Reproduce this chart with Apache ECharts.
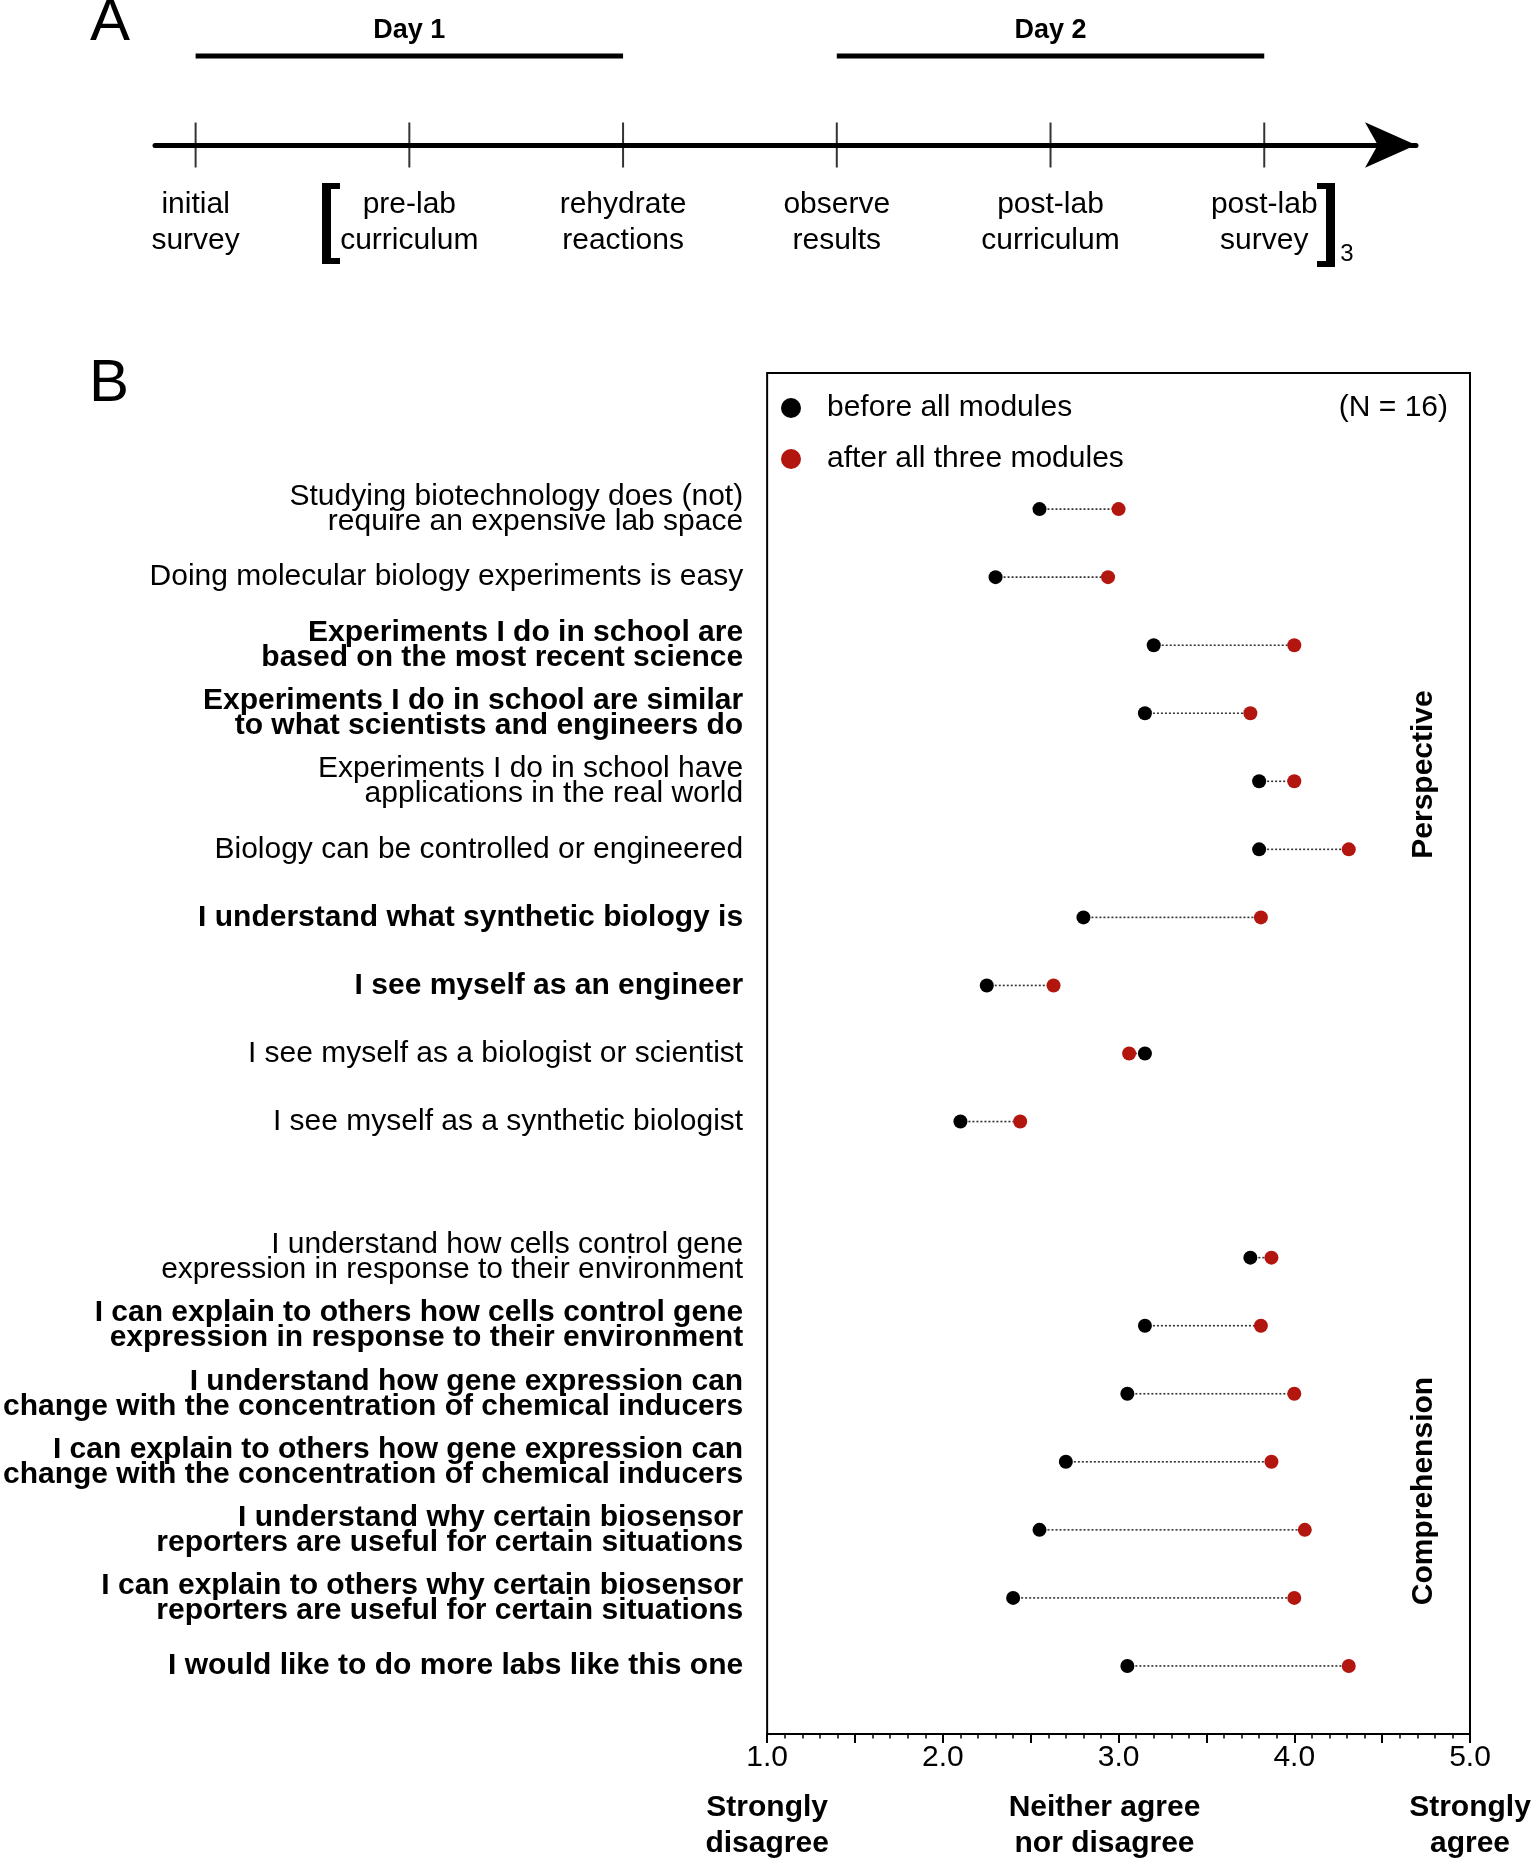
<!DOCTYPE html>
<html><head><meta charset="utf-8">
<script src="https://cdn.jsdelivr.net/npm/echarts@6/dist/echarts.min.js"></script>
<style>html,body{margin:0;padding:0;background:#fff}#c{width:1533px;height:1858px}</style>
</head><body><div id="c"></div>
<script>
// ---------- Panel A data ----------
const events = ['initial\nsurvey', 'pre-lab\ncurriculum', 'rehydrate\nreactions', 'observe\nresults', 'post-lab\ncurriculum', 'post-lab\nsurvey'];
const days = ['Day 1', 'Day 2'];
const dayStart = [1, 4];
const dayEnd = [3, 6];

// ---------- Panel B data ----------
const questions = [
  'Studying biotechnology does (not)\nrequire an expensive lab space',
  'Doing molecular biology experiments is easy',
  'Experiments I do in school are\nbased on the most recent science',
  'Experiments I do in school are similar\nto what scientists and engineers do',
  'Experiments I do in school have\napplications in the real world',
  'Biology can be controlled or engineered',
  'I understand what synthetic biology is',
  'I see myself as an engineer',
  'I see myself as a biologist or scientist',
  'I see myself as a synthetic biologist',
  null,
  'I understand how cells control gene\nexpression in response to their environment',
  'I can explain to others how cells control gene\nexpression in response to their environment',
  'I understand how gene expression can\nchange with the concentration of chemical inducers',
  'I can explain to others how gene expression can\nchange with the concentration of chemical inducers',
  'I understand why certain biosensor\nreporters are useful for certain situations',
  'I can explain to others why certain biosensor\nreporters are useful for certain situations',
  'I would like to do more labs like this one'
];
const boldFlags = [false, false, true, true, false, false, true, true, false, false, false,
                   false, true, true, true, true, true, true];
const before = [2.55, 2.30, 3.20, 3.15, 3.80, 3.80, 2.80, 2.25, 3.15, 2.10, null,
                3.75, 3.15, 3.05, 2.70, 2.55, 2.40, 3.05];
const after  = [3.00, 2.94, 4.00, 3.75, 4.00, 4.31, 3.81, 2.63, 3.06, 2.44, null,
                3.87, 3.81, 4.00, 3.87, 4.06, 4.00, 4.31];
const seriesNames = ['before all modules', 'after all three modules'];
const scaleLabels = ['Strongly\ndisagree', 'Neither agree\nnor disagree', 'Strongly\nagree'];
const scaleLabelPos = [1, 2.92, 5];
const groups = ['Perspective', 'Comprehension'];
const groupPos = [3.9, 14.43];
const groupX = 4.736;
const sampleNote = '(N = 16)';

const FF = '"Liberation Sans", Arial, Helvetica, sans-serif';
const RED = '#b3150f';

const idx = questions.map((q, i) => i).filter(i => questions[i] !== null);
const beforeData = idx.map(i => [before[i], i]);
const afterData = idx.map(i => [after[i], i]);
const connData = idx.map(i => [before[i], after[i], i]);

const chart = echarts.init(document.getElementById('c'), null, {renderer: 'canvas'});

const option = {
  backgroundColor: '#fff',
  animation: false,
  textStyle: {fontFamily: FF, color: '#000'},
  grid: [
    {left: 767, right: 63, top: 373, height: 1361, show: true, borderColor: '#000', borderWidth: 2, backgroundColor: 'transparent'},
    {left: 155, right: 117, top: 56, height: 89, show: false}
  ],
  legend: {
    data: seriesNames,
    orient: 'vertical',
    left: 781, top: 393,
    padding: 0,
    itemWidth: 20, itemHeight: 20, itemGap: 21,
    icon: 'circle',
    selectedMode: false,
    textStyle: {fontSize: 30, color: '#000', fontFamily: FF, lineHeight: 30, padding: [0, 0, 0, 21]}
  },
  xAxis: [
    {
      gridIndex: 0, type: 'value', min: 1, max: 5, interval: 0.5,
      axisLine: {show: true, onZero: false, lineStyle: {color: '#000', width: 2}},
      axisTick: {show: true, length: 9, lineStyle: {color: '#000', width: 2}},
      minorTick: {show: true, splitNumber: 5, length: 4.5, lineStyle: {color: '#000', width: 1.5}},
      splitLine: {show: false},
      axisLabel: {
        fontSize: 30, color: '#000', fontFamily: FF, margin: 9,
        formatter: v => (Math.abs(v - Math.round(v)) < 1e-6 ? v.toFixed(1) : '')
      }
    },
    {
      gridIndex: 1, type: 'value', min: 0.81, max: 6.71,
      axisLine: {show: true, onZero: false, symbol: ['none', 'arrow'], symbolSize: [34, 51],
                 lineStyle: {color: '#000', width: 5}},
      axisTick: {show: false},
      splitLine: {show: false},
      axisLabel: {
        customValues: events.map((e, i) => i + 1),
        fontSize: 30, lineHeight: 35.5, color: '#000', fontFamily: FF, margin: 42,
        formatter: v => events[Math.round(v) - 1] || ''
      }
    }
  ],
  yAxis: [
    {
      gridIndex: 0, type: 'value', inverse: true, min: -2, max: 18, interval: 1,
      axisLine: {show: false}, axisTick: {show: false}, splitLine: {show: false},
      axisLabel: {
        margin: 24,
        formatter: v => {
          const q = questions[v];
          if (!q) return '';
          const k = boldFlags[v] ? 'b' : 'n';
          return q.split('\n').map(s => '{' + k + '|' + s + '}').join('\n');
        },
        rich: {
          n: {fontSize: 30, fontFamily: FF, color: '#000', lineHeight: 25},
          b: {fontSize: 30, fontFamily: FF, color: '#000', fontWeight: 'bold', lineHeight: 25}
        }
      }
    },
    {gridIndex: 1, type: 'value', min: 0, max: 1, show: false}
  ],
  series: [
    {
      type: 'custom', name: 'connectors', xAxisIndex: 0, yAxisIndex: 0, z: 1, silent: true,
      encode: {x: [0, 1], y: 2},
      data: connData,
      renderItem: (params, api) => {
        const a = api.coord([api.value(0), api.value(2)]);
        const b = api.coord([api.value(1), api.value(2)]);
        return {type: 'line', shape: {x1: a[0], y1: a[1], x2: b[0], y2: b[1]},
                style: {stroke: '#333', lineWidth: 1.6, lineDash: [2, 2]}};
      }
    },
    {
      type: 'scatter', name: seriesNames[0], xAxisIndex: 0, yAxisIndex: 0, z: 3,
      symbol: 'circle', symbolSize: 14, itemStyle: {color: '#000', opacity: 1},
      data: beforeData
    },
    {
      type: 'scatter', name: seriesNames[1], xAxisIndex: 0, yAxisIndex: 0, z: 3,
      symbol: 'circle', symbolSize: 14, itemStyle: {color: RED, opacity: 1},
      data: afterData
    },
    {
      type: 'custom', name: 'scaleLabels', xAxisIndex: 0, yAxisIndex: 0, silent: true,
      data: scaleLabelPos.map(x => [x, 18]),
      renderItem: (params, api) => {
        const p = api.coord([api.value(0), api.value(1)]);
        return {type: 'text', x: p[0], y: p[1] + 92,
                style: {text: scaleLabels[params.dataIndex], fontSize: 30, fontWeight: 'bold', fontFamily: FF,
                        lineHeight: 36, fill: '#000', align: 'center', verticalAlign: 'middle'}};
      }
    },
    {
      type: 'custom', name: 'groups', xAxisIndex: 0, yAxisIndex: 0, silent: true,
      data: groupPos.map(y => [groupX, y]),
      renderItem: (params, api) => {
        const p = api.coord([api.value(0), api.value(1)]);
        return {type: 'text', x: p[0], y: p[1], rotation: Math.PI / 2,
                style: {text: groups[params.dataIndex], fontSize: 30, fontWeight: 'bold', fontFamily: FF,
                        fill: '#000', align: 'center', verticalAlign: 'middle'}};
      }
    },
    {
      type: 'scatter', name: 'eventTicks', xAxisIndex: 1, yAxisIndex: 1, silent: true, clip: false,
      symbol: 'rect', symbolSize: [2, 45], itemStyle: {color: '#000'},
      data: events.map((e, i) => [i + 1, 0])
    },
    {
      type: 'custom', name: 'days', xAxisIndex: 1, yAxisIndex: 1, silent: true,
      encode: {x: [0, 1], y: 2},
      data: dayStart.map((s, i) => [s, dayEnd[i], 1]),
      renderItem: (params, api) => {
        const a = api.coord([api.value(0), api.value(2)]);
        const b = api.coord([api.value(1), api.value(2)]);
        return {type: 'group', children: [
          {type: 'line', shape: {x1: a[0], y1: a[1], x2: b[0], y2: b[1]},
           style: {stroke: '#000', lineWidth: 5}},
          {type: 'text', x: (a[0] + b[0]) / 2, y: a[1] - 25,
           style: {text: days[params.dataIndex], fontSize: 27, fontWeight: 'bold', fontFamily: FF,
                   fill: '#000', align: 'center', verticalAlign: 'middle'}}
        ]};
      }
    }
  ],
  graphic: [
    {type: 'text', x: 110, y: 23, style: {text: 'A', fontSize: 60, fontFamily: FF, fill: '#000', align: 'center', verticalAlign: 'middle'}},
    {type: 'text', x: 109, y: 384, style: {text: 'B', fontSize: 60, fontFamily: FF, fill: '#000', align: 'center', verticalAlign: 'middle'}},
    {type: 'text', x: 1448, y: 408, style: {text: sampleNote, fontSize: 30, fontFamily: FF, fill: '#000', align: 'right', verticalAlign: 'middle'}},
    // left bracket
    {type: 'rect', shape: {x: 322, y: 183, width: 9, height: 81}, style: {fill: '#000'}},
    {type: 'rect', shape: {x: 322, y: 183, width: 18, height: 6}, style: {fill: '#000'}},
    {type: 'rect', shape: {x: 322, y: 258, width: 18, height: 6}, style: {fill: '#000'}},
    // right bracket
    {type: 'rect', shape: {x: 1326, y: 183, width: 9, height: 84}, style: {fill: '#000'}},
    {type: 'rect', shape: {x: 1317, y: 183, width: 18, height: 6}, style: {fill: '#000'}},
    {type: 'rect', shape: {x: 1317, y: 261, width: 18, height: 6}, style: {fill: '#000'}},
    {type: 'text', x: 1347, y: 254, style: {text: '3', fontSize: 24, fontFamily: FF, fill: '#000', align: 'center', verticalAlign: 'middle'}}
  ]
};
chart.setOption(option);
</script>
</body></html>
